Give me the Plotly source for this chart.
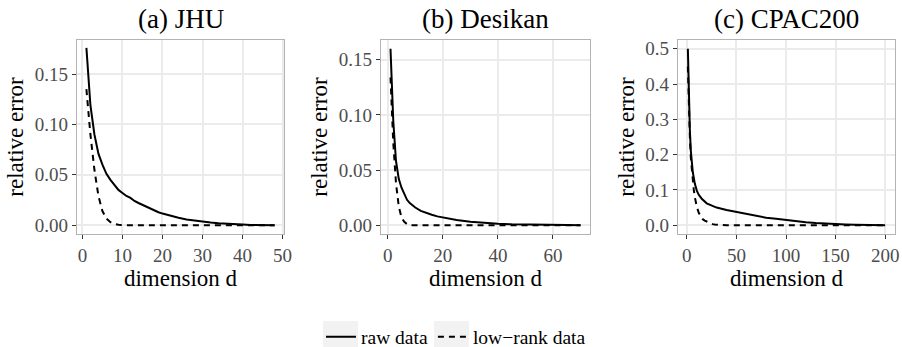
import plotly.graph_objects as go
from plotly.subplots import make_subplots

# ---------------- data ----------------
titles = ["(a) JHU", "(b) Desikan", "(c) CPAC200"]

jhu_d = [1, 2, 3, 4, 5, 6, 7, 8, 9, 10, 11, 12, 13, 14, 15, 16, 17, 18, 19, 20,
         22, 24, 26, 28, 30, 32, 34, 36, 38, 40, 42, 44, 46, 48]
jhu_raw = [0.176, 0.119, 0.090, 0.071, 0.060, 0.051, 0.045, 0.040, 0.035, 0.032,
           0.029, 0.027, 0.024, 0.022, 0.020, 0.018, 0.016, 0.0145, 0.0128, 0.0115,
           0.0092, 0.0073, 0.0056, 0.0044, 0.0034, 0.0026, 0.0019, 0.0013, 0.0009,
           0.0006, 0.0003, 0.0002, 0.0001, 0.0]
jhu_low_d = [1, 2, 3, 4, 5, 6, 7, 8, 9, 10, 20, 30, 40, 48]
jhu_low = [0.135, 0.090, 0.055, 0.029, 0.014, 0.0065, 0.003, 0.0012, 0.0004, 0.0,
           0.0, 0.0, 0.0, 0.0]

des_d = [1, 2, 3, 4, 5, 6, 7, 8, 9, 10, 12, 14, 16, 18, 20, 25, 30, 35, 40, 45,
         50, 55, 60, 65, 70]
des_raw = [0.160, 0.095, 0.058, 0.042, 0.034, 0.028, 0.023, 0.020, 0.018, 0.016,
           0.013, 0.011, 0.0095, 0.008, 0.007, 0.0048, 0.0032, 0.0021, 0.0013,
           0.0008, 0.0005, 0.0003, 0.0002, 0.0001, 0.0]
des_low_d = [1, 2, 3, 4, 5, 6, 7, 8, 9, 20, 40, 60, 70]
des_low = [0.134, 0.075, 0.038, 0.017, 0.007, 0.003, 0.001, 0.0003, 0.0,
           0.0, 0.0, 0.0, 0.0]

cpac_d = [1, 2, 3, 4, 5, 6, 8, 10, 12, 15, 20, 25, 30, 40, 50, 60, 70, 80, 90,
          100, 110, 120, 130, 140, 150, 160, 170, 180, 190, 200]
cpac_raw = [0.500, 0.360, 0.270, 0.210, 0.175, 0.150, 0.118, 0.098, 0.086, 0.075,
            0.062, 0.055, 0.050, 0.043, 0.037, 0.031, 0.026, 0.021, 0.018, 0.014,
            0.011, 0.008, 0.006, 0.004, 0.003, 0.002, 0.0012, 0.0007, 0.0003, 0.0]
cpac_low_d = [1, 2, 3, 4, 5, 6, 7, 8, 9, 10, 12, 14, 16, 18, 20, 22, 24, 26, 28,
              30, 35, 40, 100, 150, 200]
cpac_low = [0.450, 0.330, 0.250, 0.190, 0.155, 0.125, 0.100, 0.080, 0.065, 0.052,
            0.035, 0.024, 0.017, 0.013, 0.010, 0.007, 0.005, 0.003, 0.002, 0.001,
            0.0003, 0.0, 0.0, 0.0, 0.0]

x_ticks = [[0, 10, 20, 30, 40, 50], [0, 20, 40, 60], [0, 50, 100, 150, 200]]
y_ticks = [[0, 0.05, 0.10, 0.15], [0, 0.05, 0.10, 0.15], [0, 0.1, 0.2, 0.3, 0.4, 0.5]]
y_fmt = [".2f", ".2f", ".1f"]

panels = [(jhu_d, jhu_raw, jhu_low_d, jhu_low),
          (des_d, des_raw, des_low_d, des_low),
          (cpac_d, cpac_raw, cpac_low_d, cpac_low)]

# ---------------- layout helpers ----------------
W, H = 902, 347
x_dom_px = [(77, 284), (381, 590), (678, 895)]
y_dom_px = (40, 234)
x_ranges = [[-1.35, 50.35], [-2.45, 73.45], [-8.95, 209.95]]
y_ranges = [[-0.00875, 0.18375], [-0.008, 0.168], [-0.025, 0.525]]

FONT = "Liberation Serif, Times New Roman, serif"

fig = make_subplots(rows=1, cols=3)

for i, (dr, raw, dl, low) in enumerate(panels):
    fig.add_trace(go.Scatter(x=dr, y=raw, mode="lines", name="raw data",
                             line=dict(color="black", width=2),
                             showlegend=(i == 0), legendgroup="raw"),
                  row=1, col=i + 1)
    fig.add_trace(go.Scatter(x=dl, y=low, mode="lines", name="low\u2212rank data",
                             line=dict(color="black", width=2, dash="6px,5px"),
                             showlegend=(i == 0), legendgroup="low"),
                  row=1, col=i + 1)

axis_common = dict(showline=True, linecolor="#B3B3B3", linewidth=1.2, mirror=True,
                   ticks="outside", ticklen=4, tickcolor="#333333", tickwidth=1,
                   showgrid=True, gridcolor="#EBEBEB", gridwidth=1.6,
                   zeroline=False,
                   tickfont=dict(family=FONT, size=19, color="#4D4D4D"))

for i in range(3):
    xa = "xaxis" if i == 0 else f"xaxis{i+1}"
    ya = "yaxis" if i == 0 else f"yaxis{i+1}"
    fig.layout[xa].update(domain=[x_dom_px[i][0] / W, x_dom_px[i][1] / W],
                          range=x_ranges[i], tickvals=x_ticks[i],
                          title=dict(text="dimension d",
                                     font=dict(family=FONT, size=23, color="black"),
                                     standoff=2),
                          **axis_common)
    fig.layout[ya].update(domain=[1 - y_dom_px[1] / H, 1 - y_dom_px[0] / H],
                          range=y_ranges[i], tickvals=y_ticks[i],
                          tickformat=y_fmt[i],
                          title=dict(text="relative error",
                                     font=dict(family=FONT, size=23, color="black"),
                                     standoff=4),
                          **axis_common)
    fig.add_annotation(text=titles[i], xref="paper", yref="paper",
                       x=(x_dom_px[i][0] + x_dom_px[i][1]) / 2 / W,
                       y=1 - 19 / H, xanchor="center", yanchor="middle",
                       showarrow=False,
                       font=dict(family=FONT, size=27, color="black"))

# grey legend key backgrounds
for kx0, kx1 in [(323, 358), (434, 469)]:
    fig.add_shape(type="rect", xref="paper", yref="paper",
                  x0=kx0 / W, x1=kx1 / W, y0=1 - 347 / H, y1=1 - 321 / H,
                  fillcolor="#F2F2F2", line=dict(width=0), layer="below")

fig.update_layout(
    width=W, height=H,
    margin=dict(l=0, r=0, t=0, b=0, autoexpand=False),
    plot_bgcolor="white", paper_bgcolor="white",
    font=dict(family=FONT, color="black"),
    legend=dict(orientation="h", x=456 / W, xanchor="center", y=1 - 337 / H,
                yanchor="middle", font=dict(family=FONT, size=19.5, color="black"),
                bgcolor="rgba(0,0,0,0)", itemwidth=30, tracegroupgap=0),
)

fig.write_html("out.html")
